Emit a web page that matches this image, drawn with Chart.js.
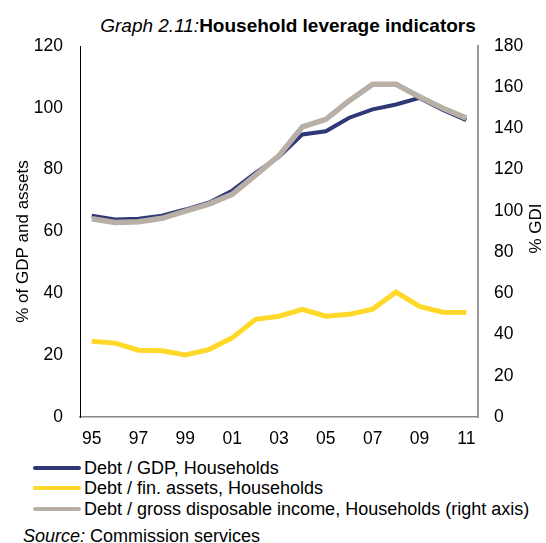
<!DOCTYPE html>
<html>
<head>
<meta charset="utf-8">
<script src="https://cdn.jsdelivr.net/npm/chart.js@4/dist/chart.umd.min.js"></script>
<style>
    body { margin: 0; background: #fff; font-family: "Liberation Sans", Arial, sans-serif; color: #000; }
    #wrap { position: relative; width: 546px; height: 543px; overflow: hidden; }
    #chart { position: absolute; left: 0; top: 0; }
    .title { position: absolute; left: 0; top: 14.5px; width: 576px; text-align: center; font-size: 19px; line-height: 22px; white-space: nowrap; }
    .title i { font-weight: normal; }
    .title b { font-weight: bold; }
    .legend-row { position: absolute; left: 33px; height: 20px; font-size: 18px; line-height: 20px; white-space: nowrap; }
    .legend-row span.swatch { position: absolute; left: 0; top: 8px; width: 48px; height: 4px; border-radius: 2px; }
    .legend-row span.text { position: absolute; left: 51px; top: 0; }
    .source { position: absolute; left: 23px; top: 526px; font-size: 18px; line-height: 20px; white-space: nowrap; }
</style>
</head>
<body>
<div id="wrap">
    <div class="title"><i>Graph 2.11:</i><b>Household leverage indicators</b></div>
    <canvas id="chart" width="546" height="450"></canvas>
    <div id="legend"></div>
    <div class="source"><i>Source:</i> Commission services</div>
</div>
<script>
// years 1995-2011
const years = ['95', '96', '97', '98', '99', '00', '01', '02', '03', '04', '05', '06', '07', '08', '09', '10', '11'];

// left axis, % of GDP / % of financial assets
const debtGdp = [65.1, 63.9, 64.1, 65.1, 67.1, 69.3, 73.2, 79.0, 84.2, 91.4, 92.4, 96.8, 99.5, 101.1, 103.2, 99.3, 96.0];
const debtFinAssets = [24.5, 23.9, 21.6, 21.4, 20.1, 21.8, 25.6, 31.6, 32.6, 34.8, 32.6, 33.2, 34.9, 40.4, 35.8, 33.9, 33.8];

// right axis, % of gross disposable income
const debtGdi = [96.2, 94.4, 94.7, 96.4, 99.9, 103.3, 108.0, 117.4, 126.8, 140.8, 144.4, 153.5, 161.4, 161.4, 155.4, 149.8, 145.0];

const seriesNames = [
    'Debt / GDP, Households',
    'Debt / fin. assets, Households',
    'Debt / gross disposable income, Households (right axis)'
];
const seriesColors = ['#2f3877', '#ffd82a', '#b8afa7'];

const FONT = '"Liberation Sans", Arial, sans-serif';
const TICK_FONT = { family: FONT, size: 17.5 };

// both axis titles read bottom-to-top, drawn by hand
const axisTitles = {
    id: 'axisTitles',
    afterDraw(chart) {
        const { y, y2 } = chart.scales;
        const c = chart.ctx;
        const put = (text, x, yc) => {
            c.save();
            c.translate(x, yc);
            c.rotate(-Math.PI / 2);
            c.font = '17px ' + FONT;
            c.fillStyle = '#000';
            c.textAlign = 'center';
            c.textBaseline = 'middle';
            c.fillText(text, 0, 0);
            c.restore();
        };
        put('% of GDP and assets', y.left + 23, (y.top + y.bottom) / 2 + 10);
        put('% GDI', y2.right - 10, (y2.top + y2.bottom) / 2 - 3);
    }
};

const ctx = document.getElementById('chart').getContext('2d');
new Chart(ctx, {
    type: 'line',
    data: {
        labels: years,
        datasets: [{
            label: seriesNames[0],
            data: debtGdp,
            borderColor: seriesColors[0],
            borderWidth: 4,
            yAxisID: 'y',
            order: 1
        }, {
            label: seriesNames[1],
            data: debtFinAssets,
            borderColor: seriesColors[1],
            borderWidth: 5,
            yAxisID: 'y',
            order: 2
        }, {
            label: seriesNames[2],
            data: debtGdi,
            borderColor: seriesColors[2],
            borderWidth: 5.5,
            yAxisID: 'y2',
            order: 0
        }]
    },
    options: {
        responsive: false,
        animation: false,
        devicePixelRatio: 1,
        layout: { padding: { top: 46, left: 0, right: 0, bottom: 0 } },
        elements: {
            point: { radius: 0 },
            line: { tension: 0, borderCapStyle: 'butt', borderJoinStyle: 'miter' }
        },
        plugins: {
            legend: { display: false },
            tooltip: { enabled: false }
        },
        scales: {
            x: {
                offset: true,
                grid: { display: false, drawTicks: false },
                border: { display: true, color: '#888', width: 1.5 },
                ticks: {
                    color: '#000',
                    font: TICK_FONT,
                    padding: 12,
                    autoSkip: false,
                    maxRotation: 0,
                    callback: (v, i) => (i % 2 === 0 ? years[i] : '')
                },
                afterFit: s => { s.height = 33; }
            },
            y: {
                position: 'left',
                min: 0,
                max: 120,
                grid: { display: false, drawTicks: false },
                border: { display: true, color: '#000', width: 1 },
                ticks: {
                    stepSize: 20,
                    color: '#000',
                    font: TICK_FONT,
                    padding: 17
                },
                afterFit: s => { s.width = 80; }
            },
            y2: {
                position: 'right',
                min: 0,
                max: 180,
                grid: { display: false, drawTicks: false },
                border: { display: true, color: '#999', width: 2 },
                ticks: {
                    stepSize: 20,
                    color: '#000',
                    font: TICK_FONT,
                    padding: 16
                },
                afterFit: s => { s.width = 68; }
            }
        }
    },
    plugins: [axisTitles]
});

// legend rows below the plot
const legend = document.getElementById('legend');
seriesNames.forEach((name, i) => {
    const row = document.createElement('div');
    row.className = 'legend-row';
    row.style.top = (458 + i * 20.3) + 'px';
    row.innerHTML = '<span class="swatch" style="background:' + seriesColors[i] + '"></span><span class="text">' + name + '</span>';
    legend.appendChild(row);
});
</script>
</body>
</html>
